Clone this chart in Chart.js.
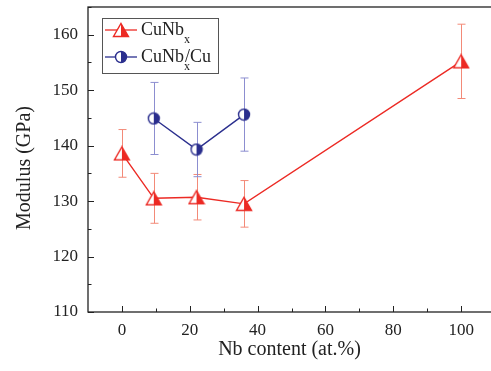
<!DOCTYPE html>
<html>
<head>
<meta charset="utf-8">
<script src="https://cdn.jsdelivr.net/npm/chart.js@4/dist/chart.umd.min.js"></script>
<style>
  html, body { margin: 0; padding: 0; background: #fff; }
  #wrap { width: 491px; height: 371px; position: relative; }
</style>
</head>
<body>
<div id="wrap"><canvas id="chart"></canvas></div>
<script>
// ─────────────────────────────────────────────
//  Data
// ─────────────────────────────────────────────

const nbX       = [0, 9.4, 22, 36, 100];
const nbMod     = [138.6, 130.5, 130.7, 129.5, 155.2];
const nbErr     = [4.3, 4.5, 4.1, 4.2, 6.7];

const nbCuX     = [9.4, 22, 36];
const nbCuMod   = [144.9, 139.3, 145.6];
const nbCuErr   = [6.5, 4.9, 6.6];

const xTicks    = [0, 20, 40, 60, 80, 100];
const yTicks    = [110, 120, 130, 140, 150, 160];

const RED       = '#ec2a24';
const RED_ERR   = '#f38a78';
const NAVY      = '#2b2f8e';
const NAVY_ERR  = '#8c8ed0';
const FONT      = '"Liberation Serif", "Times New Roman", serif';

// ─────────────────────────────────────────────
//  Half-filled markers
// ─────────────────────────────────────────────

function halfTriangle(col) {
  const c = document.createElement('canvas');
  c.width = 18; c.height = 16;
  const g = c.getContext('2d');
  const path = () => { g.beginPath(); g.moveTo(9, 1.5); g.lineTo(16.5, 14.5); g.lineTo(1.5, 14.5); g.closePath(); };
  path(); g.fillStyle = '#fff'; g.fill();
  g.save(); g.beginPath(); g.rect(9, 0, 9, 16); g.clip();
  path(); g.fillStyle = col; g.fill(); g.restore();
  path(); g.strokeStyle = col; g.lineWidth = 1.4; g.stroke();
  return c;
}

function halfCircle(col) {
  const c = document.createElement('canvas');
  c.width = 14; c.height = 14;
  const g = c.getContext('2d');
  g.beginPath(); g.arc(7, 7, 5.5, 0, Math.PI * 2); g.fillStyle = '#fff'; g.fill();
  g.beginPath(); g.arc(7, 7, 5.5, -Math.PI / 2, Math.PI / 2); g.closePath(); g.fillStyle = col; g.fill();
  g.beginPath(); g.arc(7, 7, 5.5, 0, Math.PI * 2); g.strokeStyle = col; g.lineWidth = 1.4; g.stroke();
  return c;
}

const triImg  = halfTriangle(RED);
const circImg = halfCircle(NAVY);

// ─────────────────────────────────────────────
//  Plugins
// ─────────────────────────────────────────────

const errorBars = {
  id: 'errorBars',
  beforeDatasetsDraw(chart) {
    const { ctx: c, scales: { x, y } } = chart;
    const sets = [[nbX, nbMod, nbErr, RED_ERR], [nbCuX, nbCuMod, nbCuErr, NAVY_ERR]];
    c.save();
    c.lineWidth = 1;
    sets.forEach(([xs, ys, es, col]) => {
      c.strokeStyle = col;
      xs.forEach((v, i) => {
        const px = Math.round(x.getPixelForValue(v)) + 0.5;
        const top = y.getPixelForValue(ys[i] + es[i]);
        const bot = y.getPixelForValue(ys[i] - es[i]);
        c.beginPath();
        c.moveTo(px, top); c.lineTo(px, bot);
        c.moveTo(px - 4, top); c.lineTo(px + 4, top);
        c.moveTo(px - 4, bot); c.lineTo(px + 4, bot);
        c.stroke();
      });
    });
    c.restore();
  }
};

const frame = {
  id: 'frame',
  afterDraw(chart) {
    const { ctx: c, chartArea: a, scales: { x, y } } = chart;
    c.save();
    c.strokeStyle = '#222';
    c.lineWidth = 1.3;
    c.strokeRect(a.left, a.top, a.right - a.left + 5, a.bottom - a.top);
    // inward ticks
    c.lineWidth = 1;
    for (let v = 0; v <= 100; v += 10) {
      const px = Math.round(x.getPixelForValue(v)) + 0.5;
      const len = v % 20 === 0 ? 6 : 3.5;
      c.beginPath(); c.moveTo(px, a.bottom); c.lineTo(px, a.bottom - len); c.stroke();
    }
    for (let v = 110; v <= 165; v += 5) {
      const py = Math.round(y.getPixelForValue(v)) + 0.5;
      const len = v % 10 === 0 ? 6 : 3.5;
      c.beginPath(); c.moveTo(a.left, py); c.lineTo(a.left + len, py); c.stroke();
    }
    // y title
    c.save();
    c.translate(25, 168);
    c.rotate(-Math.PI / 2);
    c.fillStyle = '#222';
    c.font = '20px ' + FONT;
    c.textAlign = 'center';
    c.textBaseline = 'middle';
    c.fillText('Modulus (GPa)', 0, 0);
    c.restore();
    // legend
    const lx = 102, ly = 18, lw = 116, lh = 55;
    c.fillStyle = '#fff';
    c.fillRect(lx, ly, lw, lh);
    c.strokeStyle = '#555';
    c.lineWidth = 1;
    c.strokeRect(lx + 0.5, ly + 0.5, lw, lh);
    const rows = [[RED, triImg, 'CuNb', ''], [NAVY, circImg, 'CuNb', '/Cu']];
    rows.forEach(([col, img, txt, tail], i) => {
      const cy = ly + 12 + i * 27;
      c.strokeStyle = col;
      c.lineWidth = 1.3;
      c.beginPath(); c.moveTo(lx + 3, cy); c.lineTo(lx + 35, cy); c.stroke();
      c.drawImage(img, lx + 19 - img.width / 2, cy - img.height / 2);
      c.fillStyle = '#222';
      c.textBaseline = 'middle';
      c.font = '18px ' + FONT;
      c.fillText(txt, lx + 39, cy);
      const w = c.measureText(txt).width;
      c.font = '12px ' + FONT;
      c.fillText('x', lx + 39 + w, cy + 10);
      if (tail) {
        c.font = '18px ' + FONT;
        c.fillText(tail, lx + 39 + w + 1, cy);
      }
    });
    c.restore();
  }
};

// ─────────────────────────────────────────────
//  Chart
// ─────────────────────────────────────────────

new Chart(document.getElementById('chart'), {
  type: 'line',
  data: {
    datasets: [
      {
        data: nbX.map((v, i) => ({ x: v, y: nbMod[i] })),
        borderColor: RED, borderWidth: 1.4,
        pointStyle: triImg, pointRadius: 8, tension: 0,
      },
      {
        data: nbCuX.map((v, i) => ({ x: v, y: nbCuMod[i] })),
        borderColor: NAVY, borderWidth: 1.4,
        pointStyle: circImg, pointRadius: 7, tension: 0,
      },
    ]
  },
  options: {
    responsive: true,
    maintainAspectRatio: false,
    animation: false,
    layout: { autoPadding: false, padding: { top: 7, right: 0, left: 0, bottom: 0 } },
    plugins: { legend: { display: false }, tooltip: { enabled: false } },
    scales: {
      x: {
        type: 'linear', min: -10, max: 108.8,
        grid: { display: false, drawTicks: false },
        border: { display: false },
        afterBuildTicks: s => { s.ticks = xTicks.map(v => ({ value: v })); },
        afterFit: s => { s.height = 59; s.paddingLeft = 0; s.paddingRight = 0; },
        ticks: { color: '#222', padding: 8, font: { family: FONT, size: 17 } },
        title: { display: true, text: 'Nb content (at.%)', color: '#222', padding: { top: 2, bottom: 9 }, font: { family: FONT, size: 20 } },
      },
      y: {
        min: 110, max: 165,
        grid: { display: false, drawTicks: false },
        border: { display: false },
        afterBuildTicks: s => { s.ticks = yTicks.map(v => ({ value: v })); },
        afterFit: s => { s.width = 88; s.paddingTop = 0; s.paddingBottom = 0; },
        ticks: { color: '#222', padding: 10, font: { family: FONT, size: 17 } },
      }
    }
  },
  plugins: [errorBars, frame]
});
</script>
</body>
</html>
